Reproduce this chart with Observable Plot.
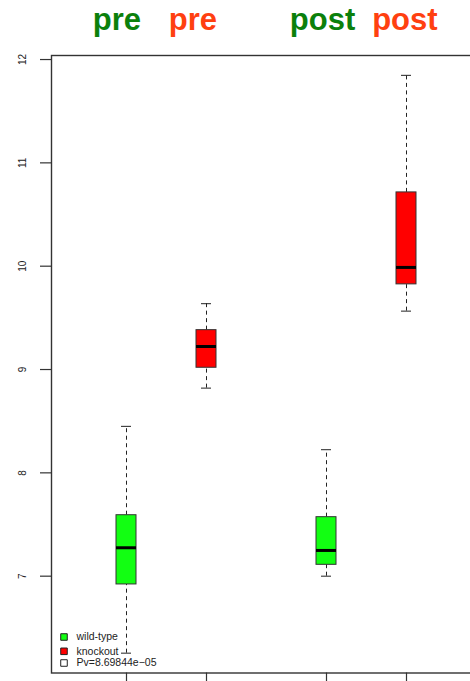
<!DOCTYPE html>
<html>
<head>
<meta charset="utf-8">
<script src="https://cdn.jsdelivr.net/npm/d3@7"></script>
<script src="https://cdn.jsdelivr.net/npm/@observablehq/plot@0.6"></script>
<style>
  html, body { margin: 0; padding: 0; background: #fff; }
  #chart { width: 470px; height: 681px; overflow: hidden; }
</style>
</head>
<body>
<div id="chart"></div>
<script>
// ---- data ----
const groups = ["wild-type pre", "knockout pre", "wild-type post", "knockout post"];
const positions = [1, 2, 3.5, 4.5];
const genotypes = ["wild-type", "knockout", "wild-type", "knockout"];
const whiskerLow = [6.255, 8.82, 7.0, 9.565];
const q1 = [6.92, 9.017, 7.11, 9.824];
const medians = [7.275, 9.223, 7.249, 9.988];
const q3 = [7.59, 9.381, 7.571, 10.714];
const whiskerHigh = [8.45, 9.637, 8.224, 11.847];

const headerLabels = ["pre", "pre", "post", "post"];
const headerAt = [0.88, 1.83, 3.45, 4.48];
const headerGenotype = ["wild-type", "knockout", "wild-type", "knockout"];

const yTicks = [7, 8, 9, 10, 11, 12];

const legendLabels = ["wild-type", "knockout", "Pv=8.69844e\u221205"];
const legendFills = ["#12ff12", "#ff0000", "#ffffff"];

// ---- build tables ----
const boxes = groups.map((g, i) => ({
  group: g, pos: positions[i], genotype: genotypes[i],
  lo: whiskerLow[i], q1: q1[i], med: medians[i], q3: q3[i], hi: whiskerHigh[i]
}));
const headers = headerLabels.map((t, i) => ({ label: t, at: headerAt[i], genotype: headerGenotype[i] }));
const legend = legendLabels.map((t, i) => ({ label: t, fill: legendFills[i] }));

const BOX_HALF = 0.125, CAP_HALF = 0.0625;
const headerColor = { "wild-type": "#0b800b", "knockout": "#ff4010" };
const font = "'Liberation Sans', Arial, Helvetica, sans-serif";
const axisColor = "#333";

const legendDy = [-36, -21.7, -10];

const plot = Plot.plot({
  width: 470,
  height: 681,
  marginTop: 55,
  marginBottom: 8.5,
  marginLeft: 51,
  marginRight: -2,
  style: { fontFamily: font, background: "#fff", overflow: "visible" },
  x: { domain: [0.0625, 5.325], axis: null },
  y: { domain: [6.063, 12.039], axis: null },
  color: { domain: ["wild-type", "knockout"], range: ["#12ff12", "#ff0000"] },
  marks: [
    // y axis ticks
    Plot.axisY({ ticks: yTicks, tickSize: 11, tickFormat: () => "", stroke: axisColor, strokeWidth: 1.2 }),
    // y tick labels (rotated as in R)
    Plot.text(yTicks, { y: d => d, text: d => String(d), frameAnchor: "left", dx: -28.5, rotate: -90,
      textAnchor: "middle", lineAnchor: "middle", fontSize: 10, fill: "#222" }),
    // x axis ticks
    Plot.axisX({ ticks: positions, tickSize: 9, tickFormat: () => "", stroke: axisColor, strokeWidth: 1.2 }),
    // whiskers
    Plot.ruleX(boxes, { x: "pos", y1: "q3", y2: "hi", stroke: "#222", strokeDasharray: "4,3.5", strokeWidth: 1 }),
    Plot.ruleX(boxes, { x: "pos", y1: "lo", y2: "q1", stroke: "#222", strokeDasharray: "4,3.5", strokeWidth: 1 }),
    Plot.ruleY(boxes, { y: "hi", x1: d => d.pos - CAP_HALF, x2: d => d.pos + CAP_HALF, stroke: "#222", strokeWidth: 1 }),
    Plot.ruleY(boxes, { y: "lo", x1: d => d.pos - CAP_HALF, x2: d => d.pos + CAP_HALF, stroke: "#222", strokeWidth: 1 }),
    // boxes
    Plot.rect(boxes, { x1: d => d.pos - BOX_HALF, x2: d => d.pos + BOX_HALF, y1: "q1", y2: "q3",
      fill: "genotype", stroke: "#333", strokeWidth: 1, insetLeft: 0, insetRight: 0 }),
    // medians
    Plot.ruleY(boxes, { y: "med", x1: d => d.pos - BOX_HALF, x2: d => d.pos + BOX_HALF, stroke: "#000", strokeWidth: 3 }),
    // frame
    Plot.frame({ stroke: axisColor, strokeWidth: 1.4 }),
    // header labels
    Plot.text(headers, { x: "at", text: "label", frameAnchor: "top", dy: -25.5, lineAnchor: "bottom",
      fontSize: 31, fontWeight: "bold", fill: d => headerColor[d.genotype] }),
    // legend
    ...legend.map((item, i) => Plot.dot([item], { frameAnchor: "bottom-left", dx: 12.5, dy: legendDy[i],
      symbol: "square", r: 3.7, fill: "fill", stroke: "#222", strokeWidth: 1 })),
    ...legend.map((item, i) => Plot.text([item], { frameAnchor: "bottom-left", dx: 25, dy: legendDy[i],
      text: "label", textAnchor: "start", lineAnchor: "middle", fontSize: 10.5, fill: "#222" }))
  ]
});
document.getElementById("chart").appendChild(plot);
</script>
</body>
</html>
